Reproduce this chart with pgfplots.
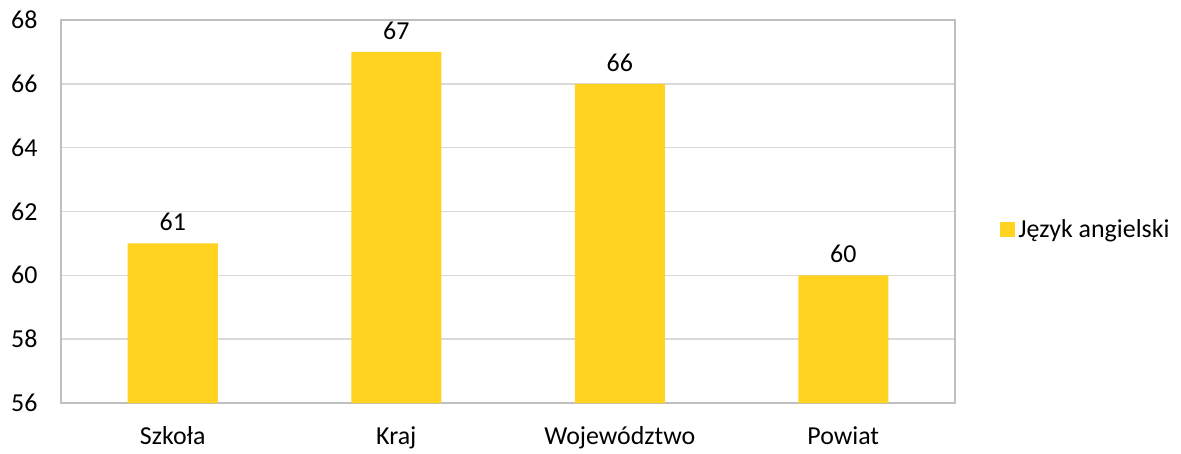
\documentclass[border=0pt]{standalone}
\usepackage{pgfplots}
\pgfplotsset{compat=1.18}
\usepackage{fontspec}
\setmainfont{Carlito}
\definecolor{baryellow}{HTML}{FFD320}
\definecolor{gridgray}{HTML}{D9D9D9}
\definecolor{axisgray}{HTML}{BFBFBF}
\begin{document}
\begin{tikzpicture}
\useasboundingbox (-61bp,-51bp) rectangle (1120bp,403bp);
\begin{axis}[
    at={(0,0)}, anchor=south west,
    scale only axis, width=894bp, height=383bp,
    ymin=56, ymax=68, ytick={56,58,...,68},
    xmin=-0.5, xmax=3.5, xtick={0,1,2,3},
    xticklabels={Szkoła,Kraj,Województwo,Powiat},
    ybar, bar width=90bp,
    axis line style={axisgray, line width=1.5bp},
    ymajorgrids, grid style={gridgray, line width=1.5bp},
    major tick length=0pt,
    tick label style={font=\fontsize{26}{30}\selectfont},
    /pgf/number format/assume math mode=true,
    yticklabel style={xshift=-20bp},
    xticklabel style={yshift=-20bp},
    nodes near coords,
    nodes near coords style={font=\fontsize{26}{30}\selectfont, black, yshift=9bp},
    legend style={at={(1.045,0.454)}, xshift=5bp, anchor=west, draw=none, fill=none,
        font=\fontsize{26}{30}\selectfont, inner sep=0pt,
        nodes={inner sep=3bp}},
    legend cell align=left,
    legend image code/.code={\fill[baryellow] (-5bp,-7.5bp) rectangle (10bp,7.5bp);},
]
\addplot[fill=baryellow, draw=none] coordinates {(0,61) (1,67) (2,66) (3,60)};
\addlegendentry{Język angielski}
\end{axis}
\end{tikzpicture}
\end{document}
